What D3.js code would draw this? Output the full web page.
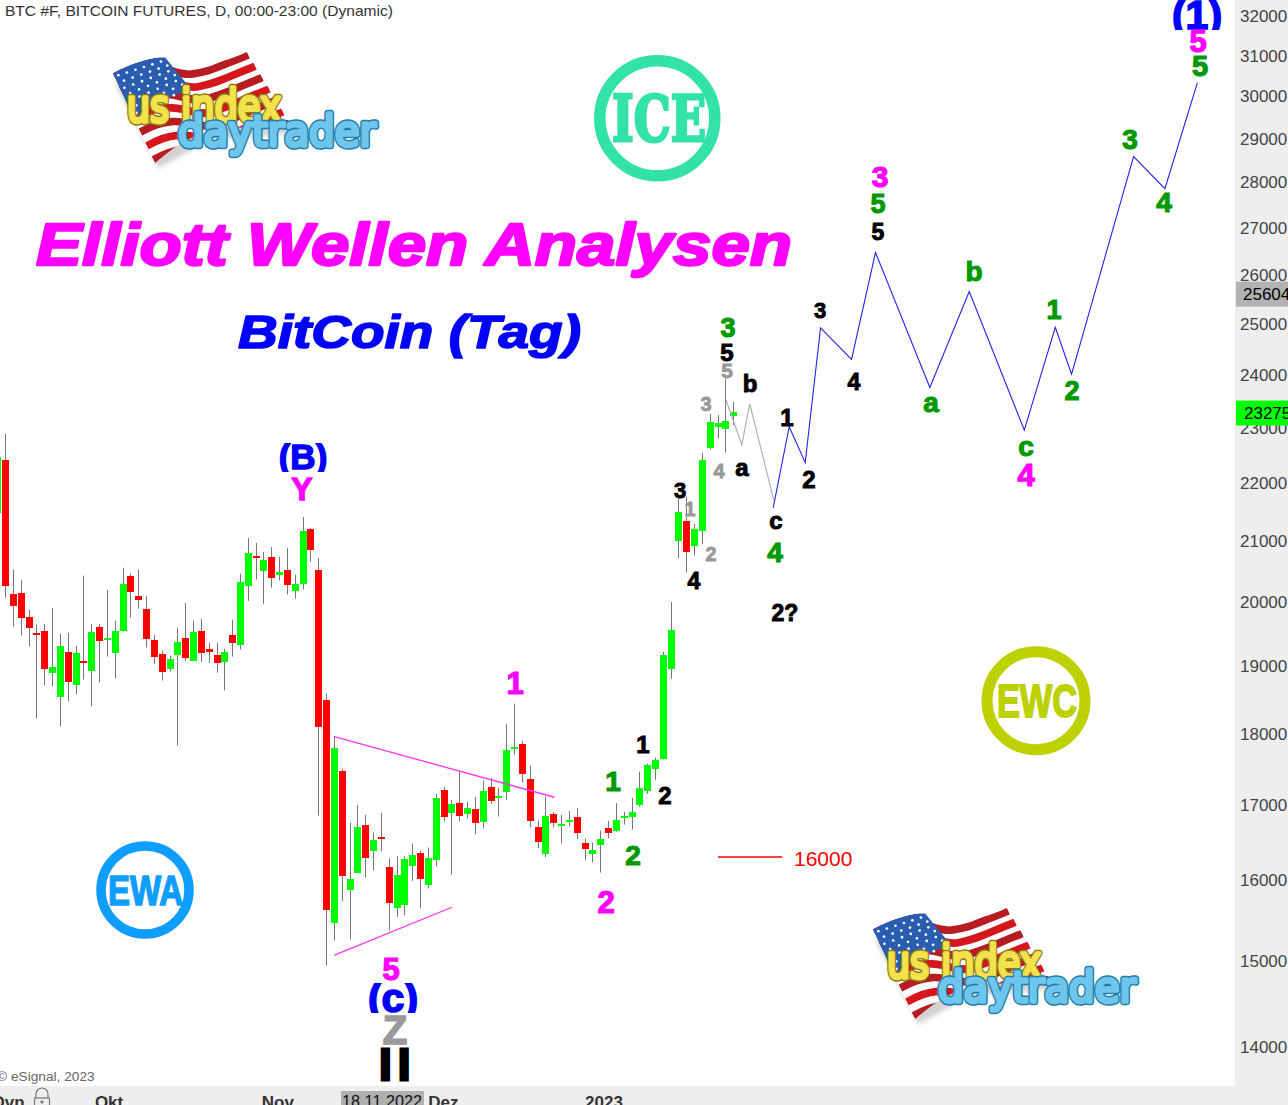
<!DOCTYPE html>
<html><head><meta charset="utf-8">
<style>html,body{margin:0;padding:0;background:#fff;overflow:hidden}svg{display:block}</style>
<script src="https://cdn.jsdelivr.net/npm/d3@7"></script></head><body><svg id="c" width="1288" height="1105"></svg>
<script>
// ---- data ----
const barIndex = d3.range(-1, 94);
const opens = [21495,22419,20134,20149,19767,19516,19546,18896,18531,19219,18723,19078,18930,19610,19407,19208,19551,20430,20101,19892,19407,19188,18945,19177,19438,19083,19547,19266,19172,19067,19484,19333,20270,20757,20516,20741,20446,20528,20189,20303,21210,20528,18497,15461,17473,15884,16102,16732,16392,16561,16168,15660,15685,16182,16353,15934,16265,17206,16881,17024,16881,16943,16776,17248,17098,17182,17782,17852,17361,16706,16344,16877,16723,16776,16838,16494,16353,16471,16693,16644,16828,16838,16996,17194,17501,17642,18956,21008,21348,20923,21181,22640,23015,22984,23227];
const highs = [22600,22888,20528,20362,19876,19642,19657,19908,19500,19516,19312,20430,19657,19657,20198,19704,20560,20462,20528,20101,19485,19235,19156,19594,19986,19704,19735,19361,19361,19266,19720,20462,21055,20970,20823,20905,20741,20888,20446,21415,21226,20724,18586,17965,17501,16758,16996,16864,16627,16891,16287,16313,16313,16481,16388,16428,17150,17246,17068,17473,17038,17109,17336,17375,17234,18140,18438,17895,17543,16785,17109,16904,16864,16917,16956,16547,16494,16653,16785,17024,16905,17096,17459,17571,17656,19219,20002,21727,21767,21296,22545,23260,23240,23920,23486];
const lows = [21300,20073,19615,19474,19302,18220,18708,18694,18102,18472,18575,18797,18398,18753,19145,18812,19537,19756,19897,19287,19036,18782,18916,17829,19083,19083,19065,19050,18900,18635,19145,19255,20022,20369,19975,20237,20352,20123,20056,20204,20664,16855,14943,15249,15735,15263,16102,16036,16129,16380,15374,15536,15561,15996,15648,15897,16182,16776,16076,16776,16815,16604,16683,17014,16842,17070,17702,17309,16696,16419,16300,16696,16485,16710,16538,16261,16234,16102,16551,16636,16732,16666,16974,17150,17347,17628,18808,20713,20483,20762,20959,22605,22803,22550,23053];
const closes = [22475,20270,19944,19756,19600,19483,18960,18985,19312,18768,19203,19047,19532,19396,19438,19547,20299,20166,20039,19427,19145,18916,19104,19376,19130,19532,19208,19224,19050,19219,19365,20329,20806,20729,20692,20401,20495,20287,20298,21176,20861,18102,15632,17796,16062,16019,16706,16300,16534,16534,15710,16076,16274,16326,16010,16287,17096,16842,17010,16842,16956,16749,17194,17056,17122,17768,17810,17421,16789,16512,16851,16749,16745,16798,16617,16418,16401,16547,16630,16798,16851,16905,17234,17557,17628,19172,19563,21503,20828,21210,22419,23110,23090,23127,23297];

const greyWaveBars = [92,94.02,95.04,98.1];
const greyWavePrices = [23524,22690,23448,21710];
const blueWaveBars = [98.03,100.08,102.12,104.08,108.04,111.1,118.04,123.07,130.1,134.06,136.14,144.06,148.06,152.2];
const blueWavePrices = [21572,23021,22370,24919,24300,26473,23756,25657,22960,24933,24010,28588,27864,30330];
const triangleUpperBars = [42,70.1];
const triangleUpperPrices = [17955,17104];
const triangleLowerBars = [42,57];
const triangleLowerPrices = [15070,15660];
const targetBars = [91,99.2];
const targetPrices = [16305,16305];

const priceTicks = [32000,31000,30000,29000,28000,27000,26000,25000,24000,23000,22000,21000,20000,19000,18000,17000,16000,15000,14000];
const monthTickBars = [0.25,13.15,34.7,55.85,76.35];
const monthTickLabels = ["Ovn","Okt","Nov","Dez","2023"];
const lastPrice = 23275, crossPrice = 25604, crossDate = "18.11.2022";

const MAG="#ff00ff", GRN="#009900", BLK="#000", GRY="#999", BLU="#0000ff";
// [text, centre x, centre y, font size, colour, clip top, clip bottom]
const waveLabels = [
 ["(1)",1197,14,41,BLU,-5,30],["5",1198,41,31,MAG],["5",1200,66,29,GRN],["3",1130,139,28,GRN],["4",1164,202,28,GRN],
 ["3",880,176,30,MAG],["5",878,203,27,GRN],["5",878,232,23,BLK],["3",820,310,22,BLK],["4",854,382,23,BLK],
 ["b",974,271,28,GRN],["a",931,405,28,GRN],["1",1054,309,27,GRN],["2",1072,390,27,GRN],["c",1026,449,28,GRN],["4",1026,475,31,MAG],
 ["1",787,417,24,BLK],["2",809,479,24,BLK],["4",775,552,28,GRN],["c",776,523,24,BLK],["a",742,470,24,BLK],["b",750,383,24,BLK],
 ["3",728,327,27,GRN],["5",727,352,24,BLK],["5",727,370,21,GRY],["3",706,404,20,GRY],["4",719,471,20,GRY],["1",690,509,20,GRY],["2",711,554,20,GRY],
 ["3",680,490,22,BLK],["4",694,581,23,BLK],["2?",785,613,23,BLK],
 ["(B)",303,456,35,BLU,443,472],["Y",302,489,32,MAG],["1",515,683,31,MAG],["2",606,902,31,MAG],["5",391,969,31,MAG],
 ["(c)",393,997,41,BLU,983,1013],["Z",395,1030,40,GRY],
 ["1",613,781,28,GRN],["2",633,855,28,GRN],["1",643,744,24,BLK],["2",665,795,24,BLK]
];

// ---- scales ----
const x = d3.scaleLinear().domain([0,93]).range([5.6,733.79]);
const y = d3.scaleLog().domain([32000,14000]).range([16,1047]);
const svg = d3.select("#c");
const SANS = "'Liberation Sans',Arial,sans-serif";
const defs = svg.append("defs");

// ---- candles ----
const candles = svg.append("g");
const rows = barIndex.map((b,i)=>({b,o:opens[i],h:highs[i],l:lows[i],c:closes[i]}));
candles.selectAll("rect.w").data(rows).join("rect").attr("class","w")
  .attr("x",d=>Math.floor(x(d.b))).attr("width",1)
  .attr("y",d=>y(d.h)).attr("height",d=>y(d.l)-y(d.h)).attr("fill","#767676");
candles.selectAll("rect.b").data(rows).join("rect").attr("class","b")
  .attr("x",d=>Math.floor(x(d.b))-3).attr("width",7)
  .attr("y",d=>Math.round(y(Math.max(d.o,d.c))))
  .attr("height",d=>Math.max(2,Math.round(y(Math.min(d.o,d.c))-y(Math.max(d.o,d.c)))))
  .attr("fill",d=>d.c>=d.o?"#00ff00":"#ff0000");

// ---- lines ----
const pl = (bars,prices,col,w)=>svg.append("path")
  .attr("d",d3.line().x(d=>x(d[0])).y(d=>y(d[1]))(d3.zip(bars,prices)))
  .attr("fill","none").attr("stroke",col).attr("stroke-width",w);
pl(triangleUpperBars,triangleUpperPrices,"#ff33ee",1.3);
pl(triangleLowerBars,triangleLowerPrices,"#ff33ee",1.3);
pl(greyWaveBars,greyWavePrices,"#b0b0b0",1.2);
pl(blueWaveBars,blueWavePrices,"#2222ee",1.1);
pl(targetBars,targetPrices,"#ff0000",1.5);
svg.append("text").attr("x",794).attr("y",866).attr("fill","#ff0000")
  .attr("font-family",SANS).attr("font-size",21).text("16000");

// ---- axes ----
svg.append("rect").attr("x",1235).attr("y",0).attr("width",53).attr("height",1105).attr("fill","#eeeeee");
svg.append("rect").attr("x",0).attr("y",1086).attr("width",1288).attr("height",19).attr("fill","#eeeeee");
const ay = svg.append("g").attr("transform","translate(1235,0)")
  .call(d3.axisRight(y).tickValues(priceTicks).tickFormat(d3.format("d")).tickSize(0).tickPadding(5));
ay.select(".domain").remove();
ay.selectAll("text").attr("font-family",SANS).attr("font-size",17).attr("fill","#444");

const tag=(p,col,tx)=>{const yy=y(p);
  svg.append("rect").attr("x",1236).attr("y",yy-12.5).attr("width",52).attr("height",25).attr("fill",col);
  svg.append("text").attr("x",tx).attr("y",yy+6).attr("font-family",SANS).attr("font-size",17).attr("fill","#000").text(p);};
tag(crossPrice,"#b2b2b2",1243); tag(lastPrice,"#00ff00",1244);

svg.append("rect").attr("x",341).attr("y",1091).attr("width",83).attr("height",14).attr("fill","#b0b0b0");
svg.append("text").attr("x",382).attr("y",1107).attr("text-anchor","middle").attr("font-family",SANS).attr("font-size",16.2).attr("fill","#111").text(crossDate);
const ax = svg.append("g").attr("transform","translate(0,1096)")
  .call(d3.axisBottom(x).tickValues(monthTickBars).tickFormat((d,i)=>monthTickLabels[i]).tickSize(0).tickPadding(0));
ax.select(".domain").remove();
ax.selectAll("text").attr("font-family",SANS).attr("font-size",17).attr("font-weight","bold").attr("fill","#333");
// lock icon
const lk=svg.append("g").attr("fill","none").attr("stroke","#777").attr("stroke-width",1.2);
lk.append("path").attr("d","M36,1098 v-4 a5,5 0 0 1 12,0 v4");
lk.append("rect").attr("x",34.5).attr("y",1098).attr("width",15).attr("height",12);
svg.append("circle").attr("cx",42).attr("cy",1102).attr("r",1.6).attr("fill","#777");

// ---- header / footer ----
svg.append("text").attr("x",5).attr("y",16).attr("font-family",SANS).attr("font-size",15.55).attr("fill","#333").text("BTC #F, BITCOIN FUTURES, D, 00:00-23:00 (Dynamic)");
svg.append("text").attr("x",-3).attr("y",1081).attr("font-family",SANS).attr("font-size",13.7).attr("fill","#666").text("© eSignal, 2023");

// ---- wave labels ----
waveLabels.forEach((d,i)=>{
  const [t,cx,cy,fs,col,c0,c1]=d;
  const off = "ace".includes(t)?0.26:0.358;
  const tx = svg.append("text").attr("x",cx).attr("y",cy+off*fs).attr("text-anchor","middle")
    .attr("font-family",SANS).attr("font-weight","bold").attr("font-size",fs).attr("fill",col)
    .attr("stroke",col).attr("stroke-width",fs*0.04).text(t);
  if(c0!==undefined){
    defs.append("clipPath").attr("id","lc"+i).append("rect").attr("x",cx-60).attr("y",c0).attr("width",120).attr("height",c1-c0);
    tx.attr("clip-path",`url(#lc${i})`);
  }
});
svg.append("text").attr("x",398).attr("y",1079.5).attr("text-anchor","middle")
  .attr("font-family",SANS).attr("font-weight","bold").attr("font-size",44).attr("fill","#000")
  .attr("stroke","#000").attr("stroke-width",3).attr("letter-spacing",6.5).text("II");

// ---- titles ----
svg.append("text").attr("x",36).attr("y",265).attr("textLength",756).attr("lengthAdjust","spacingAndGlyphs")
  .attr("font-family",SANS).attr("font-weight","bold").attr("font-style","italic").attr("font-size",60)
  .attr("fill",MAG).attr("stroke",MAG).attr("stroke-width",2.4).attr("stroke-linejoin","round").text("Elliott Wellen Analysen");
svg.append("text").attr("x",238).attr("y",348).attr("textLength",343).attr("lengthAdjust","spacingAndGlyphs")
  .attr("font-family",SANS).attr("font-weight","bold").attr("font-style","italic").attr("font-size",47)
  .attr("fill",BLU).attr("stroke",BLU).attr("stroke-width",1.6).attr("stroke-linejoin","round").text("BitCoin (Tag)");

// ---- round badges ----
const badge=(cx,cy,r,sw,col,txt,tx0,tw,base,fs,fam,tsw)=>{
  svg.append("circle").attr("cx",cx).attr("cy",cy).attr("r",r).attr("fill","none").attr("stroke",col).attr("stroke-width",sw);
  svg.append("text").attr("x",tx0).attr("y",base).attr("textLength",tw).attr("lengthAdjust","spacingAndGlyphs")
    .attr("font-family",fam).attr("font-weight","bold").attr("font-size",fs).attr("fill",col).attr("stroke",col).attr("stroke-width",tsw).text(txt);
};
badge(657.3,118.3,57.5,11.5,"#33e2a8","ICE",612,94,141,63,"'DejaVu Serif',serif",3);
badge(145,890,44,9.5,"#0f9eff","EWA",108,75,905,43,SANS,1.6);
badge(1036,700.7,49,11,"#bdd100","EWC",997,80,717,47,SANS,1.8);

// ---- logos ----
defs.append("clipPath").attr("id","flagClip").append("path")
  .attr("d","M38,100 C90,72 150,50 195,52 C270,85 360,75 440,36 L575,258 C500,280 400,245 320,275 C260,295 215,325 165,370 Z");
const blur=defs.append("filter").attr("id","shadow").attr("x","-20%").attr("y","-20%").attr("width","140%").attr("height","140%");
blur.append("feGaussianBlur").attr("stdDeviation",8);
function logo(dx,dy){
  const g=svg.append("g").attr("transform",`translate(${dx},${dy}) scale(${1/3})`);
  g.append("path").attr("d","M45,130 L175,385 L330,300 L580,280 L440,60 Z").attr("fill","#000").attr("opacity",0.18).attr("filter","url(#shadow)");
  const f=g.append("g").attr("clip-path","url(#flagClip)");
  f.append("rect").attr("x",0).attr("y",0).attr("width",620).attr("height",400).attr("fill","#fff");
  d3.range(13).forEach(k=>{
    if(k%2) return;
    const t0=k/13+0.038, lerp=(a,b,t)=>a+(b-a)*t;
    const sx=lerp(38,165,t0), sy=lerp(100,370,t0), ex=lerp(440,575,t0), ey=lerp(36,258,t0);
    f.append("path").attr("d",`M${sx},${sy} C${sx+120},${sy-70} ${sx+170},${sy} ${lerp(sx,ex,.5)+30},${lerp(sy,ey,.5)+25} S${ex-90},${ey+35} ${ex},${ey}`)
      .attr("fill","none").attr("stroke",k%4?"#d5161c":"#b71c22").attr("stroke-width",23);
  });
  f.append("path").attr("d","M38,100 C90,72 150,50 195,52 L275,150 C210,165 150,195 100,235 Z").attr("fill","#2a5cb0");
  const bl=(u,v)=>{const tx=38+157*u, ty=100-48*u, bx=100+175*u, by=235-85*u; return [tx+(bx-tx)*v,ty+(by-ty)*v];};
  d3.range(7).forEach(r=>d3.range(6).forEach(c=>{
    const [px,py]=bl((c+.5+(r%2?.3:0))/6.2,(r+.5)/7);
    f.append("circle").attr("cx",px).attr("cy",py).attr("r",4).attr("fill","#fff");
  }));
  const layer=(t,x0,w,base,fs,col,sw)=>g.append("text").attr("x",x0).attr("y",base).attr("textLength",w).attr("lengthAdjust","spacingAndGlyphs")
    .attr("font-family","'DejaVu Sans',sans-serif").attr("font-size",fs)
    .attr("fill",col).attr("stroke",col).attr("stroke-width",sw).attr("stroke-linejoin","round").attr("stroke-linecap","round").text(t);
  layer("us index",80,465,246,140,"#8b7d12",20);
  layer("us index",80,465,246,140,"#f3e24c",11);
  layer("daytrader",234,594,318,130,"#1f7da8",20);
  layer("daytrader",234,594,318,130,"#6fc6ec",11);
}
logo(100,40);
logo(860,896);
</script></body></html>
